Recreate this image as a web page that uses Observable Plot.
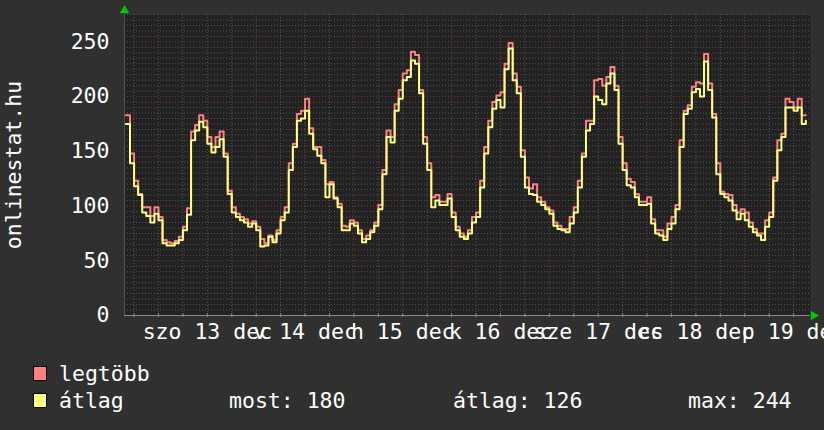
<!DOCTYPE html>
<html><head><meta charset="utf-8">
<script src="https://cdn.jsdelivr.net/npm/d3@7"></script>
<script src="https://cdn.jsdelivr.net/npm/@observablehq/plot@0.6"></script>
<style>
body{margin:0;background:#303030;}
#c{width:824px;height:430px;overflow:hidden;background:#303030;}
svg{display:block;}
</style>
</head><body><div id="c"></div>
<script>
// hourly samples starting Dec 12 2008 16:00
const startTime = "2008-12-12T16:00Z";
const avgValues = [175,139,118,110,94,91,85,93,87,66,
 64,64,66,69,78,92,160,169,177,172,
 157,149,154,161,145,111,94,90,87,85,
 81,84,78,63,64,72,67,75,87,94,
 133,154,178,180,187,166,152,146,139,108,
 120,107,99,78,78,84,82,75,67,70,
 76,82,97,129,163,158,187,198,215,218,
 233,230,203,157,133,99,105,101,101,107,
 90,78,72,70,75,85,90,117,148,172,
 189,197,190,225,244,215,203,145,117,111,
 110,104,101,97,93,82,79,78,76,84,
 94,117,145,169,175,200,197,193,212,221,
 206,157,133,119,117,108,101,101,102,84,
 75,73,69,79,84,97,154,184,189,204,
 207,200,232,206,181,129,111,108,105,96,
 88,93,87,81,76,73,69,81,90,123,
 151,163,190,190,187,190,175,178];
const maxValues = [183,148,123,111,99,99,91,99,90,69,
 67,66,68,72,81,98,168,174,183,178,
 163,154,163,168,148,114,99,93,90,88,
 84,86,81,70,66,73,69,78,90,99,
 139,157,184,187,198,171,154,154,142,120,
 122,108,102,82,81,87,85,78,70,73,
 78,85,101,133,169,163,193,206,221,224,
 241,238,206,163,139,108,110,104,104,111,
 94,81,75,72,78,90,94,123,154,178,
 195,201,204,230,249,221,209,151,126,116,
 120,108,104,99,96,85,82,79,79,90,
 99,123,148,178,178,215,216,210,218,227,
 210,163,139,125,122,111,104,104,108,88,
 78,78,72,84,90,101,160,187,192,209,
 213,212,239,212,184,139,113,111,110,101,
 94,97,94,85,79,75,75,87,94,126,
 160,166,198,195,190,198,183,183];
const yTicks = [0,50,100,150,200,250];
const dayLabels = ["szo 13 dec","v 14 dec","h 15 dec","k 16 dec","sze 17 dec","cs 18 dec","p 19 dec"];
const dayNoons = ["2008-12-13T12:00Z","2008-12-14T12:00Z","2008-12-15T12:00Z","2008-12-16T12:00Z","2008-12-17T12:00Z","2008-12-18T12:00Z","2008-12-19T12:00Z"];
const yTitle = "onlinestat.hu";
const seriesNames = ["legtöbb","átlag"];
const seriesColors = ["#ff8080","#ffff80"];
const statTexts = ["most: 180","átlag: 126","max: 244"];

const FONT = "'DejaVu Sans Mono', monospace";
const FS = 21.5;
const hour = 3600e3;
const t0 = Date.parse(startTime);
const data = avgValues.map((v,i)=>({t:new Date(t0+i*hour), avg:v, max:maxValues[i]}));
const xDomain = [new Date("2008-12-12T15:39Z"), new Date("2008-12-19T16:09Z")];
const yMax = 275;
const minorY = d3.range(0, yMax+1, 5).filter(v => v % 50);
const midnights = d3.utcDay.range(xDomain[0], xDomain[1]);
const sixHours = d3.utcHour.every(6).range(xDomain[0], xDomain[1]).filter(d => d.getUTCHours() !== 0);
const labels = dayLabels.map((s,i)=>({t:new Date(dayNoons[i]), s}));

const chart = Plot.plot({
  width: 824, height: 350,
  marginLeft: 124, marginRight: 14, marginTop: 14, marginBottom: 35,
  style: {background:"transparent", color:"#fff", fontFamily:FONT, fontSize:FS+"px", overflow:"visible"},
  x: {type:"utc", domain:xDomain, axis:null},
  y: {type:"linear", domain:[0,yMax], axis:null},
  marks: [
    Plot.frame({fill:"#222222", stroke:null}),
    Plot.ruleY(minorY, {stroke:"#565656", strokeDasharray:"1,2"}),
    Plot.ruleX(sixHours, {stroke:"#565656", strokeDasharray:"1,2"}),
    Plot.ruleY(yTicks.filter(v=>v>0), {stroke:"#7a3838", strokeDasharray:"1,2"}),
    Plot.ruleX(midnights, {stroke:"#7a3838", strokeDasharray:"1,2"}),
    Plot.ruleY([0], {stroke:"#8a8a8a"}),
    Plot.ruleX([xDomain[0]], {stroke:"#555"}),
    Plot.ruleX(sixHours.concat(midnights), {y1:0, y2:0, insetTop:-2, insetBottom:-2, stroke:"#8a8a8a"}),
    Plot.line(data, {x:"t", y:"max", stroke:seriesColors[0], strokeWidth:2, curve:"step-after"}),
    Plot.line(data, {x:"t", y:"avg", stroke:seriesColors[1], strokeWidth:2, curve:"step-after"}),
    Plot.axisY(yTicks, {tickSize:0, tickPadding:15, fontSize:FS, label:null}),
    Plot.text(labels, {x:"t", text:"s", frameAnchor:"bottom", dy:17, lineAnchor:"middle", fontSize:FS, fill:"#fff"}),
    Plot.text([yTitle], {frameAnchor:"left", dx:-110, rotate:-90, textAnchor:"middle", lineAnchor:"middle", fontSize:FS, fill:"#fff"}),
    Plot.dot([xDomain[0]], {x:d=>d, y:()=>yMax, symbol:"triangle", r:3.5, fill:"#00c800", stroke:null, dy:-4}),
    Plot.dot([xDomain[1]], {x:d=>d, y:()=>0, symbol:"triangle", rotate:90, r:3.5, fill:"#00c800", stroke:null, dx:3})
  ]
});
document.getElementById("c").appendChild(chart);

// legend below the chart
const leg = d3.select("#c").append("svg").attr("width",824).attr("height",80)
  .style("font-family",FONT).style("font-size",FS+"px");
seriesNames.forEach((n,i)=>{
  const y0 = 16 + i*27;
  leg.append("rect").attr("x",33.5).attr("y",y0+0.5).attr("width",13).attr("height",14)
    .attr("fill",seriesColors[i]).attr("stroke","#000");
  leg.append("text").attr("x",59).attr("y",y0+15).attr("fill","#fff").text(n);
});
const statX = [229,453,688];
statTexts.forEach((s,i)=>{
  leg.append("text").attr("x",statX[i]).attr("y",16+27+15).attr("fill","#fff").text(s);
});
</script></body></html>
